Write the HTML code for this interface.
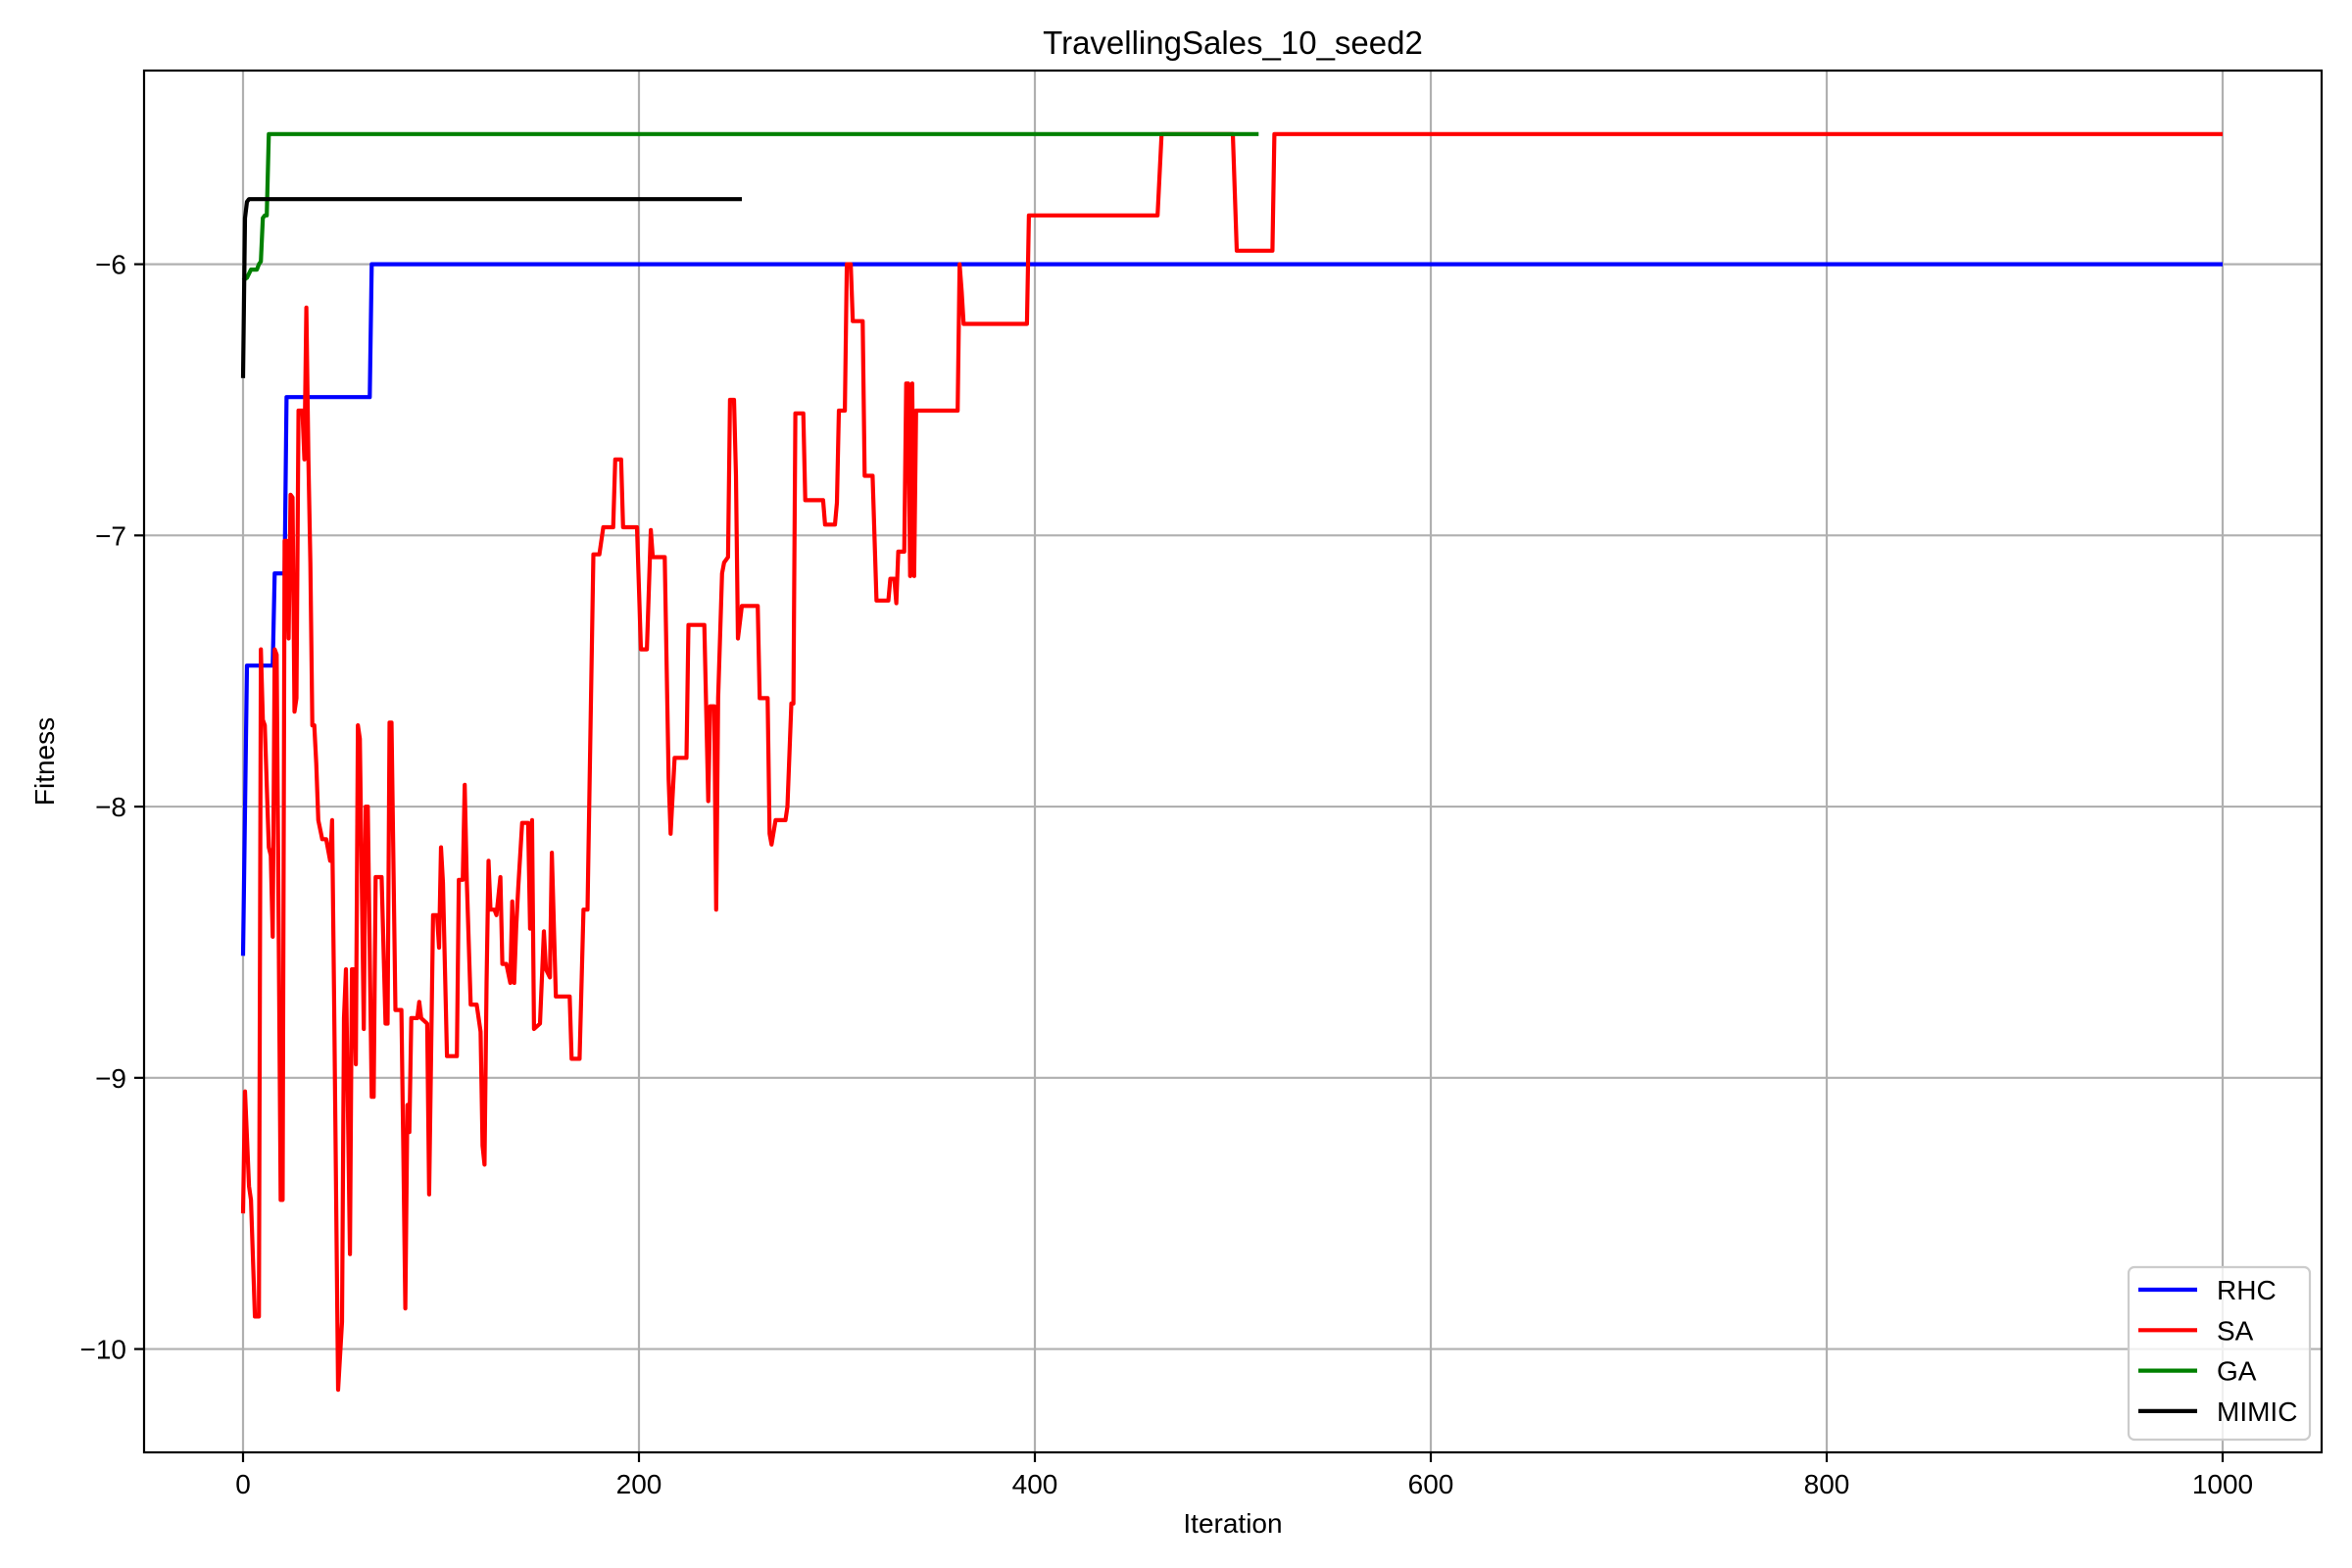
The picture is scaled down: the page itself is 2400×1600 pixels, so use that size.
<!DOCTYPE html>
<html><head><meta charset="utf-8"><style>
html,body{margin:0;padding:0;background:#fff;}
svg{display:block;font-family:"Liberation Sans","DejaVu Sans",sans-serif;}
</style></head><body>
<svg id="chart" width="2400" height="1600" viewBox="0 0 2400 1600" xmlns="http://www.w3.org/2000/svg">
<rect width="2400" height="1600" fill="#fff"/>
<g id="grid"></g>
<g id="series"></g>
<rect x="147" y="72" width="2222" height="1410" fill="none" stroke="#000" stroke-width="2.2"/>
<g id="ticks"></g>
<text x="1258" y="55" font-size="33" text-anchor="middle">TravellingSales_10_seed2</text>
<text x="1258" y="1564" font-size="28" text-anchor="middle">Iteration</text>
<text x="0" y="0" font-size="28" text-anchor="middle" transform="translate(55,777) rotate(-90)">Fitness</text>
<g id="legend"></g>
</svg>
<script>
const xTicks=[0,200,400,600,800,1000];
const yTicks=[-10,-9,-8,-7,-6];
const seriesNames=["RHC","SA","GA","MIMIC"];
const seriesColors=["#0000ff","#ff0000","#008000","#000000"];
const rhcIter=[0,2,15,16,21,22,64,65,1000];
const rhcVal=[-8.55,-7.48,-7.48,-7.14,-7.14,-6.49,-6.49,-6.0,-6.0];
const gaIter=[0,2,4,7,8,9,10,11,12,13,513];
const gaVal=[-6.06,-6.05,-6.02,-6.02,-6.0,-5.99,-5.83,-5.82,-5.82,-5.52,-5.52];
const mimicIter=[0,1,2,3,252];
const mimicVal=[-6.42,-5.83,-5.77,-5.76,-5.76];
const saIter=[0,1,3,4,6,8,9,10,11,13,14,15,16,17,19,20,21,22,23,24,25,26,27,28,30,31,32,33,34,35,36,37,38,40,42,44,45,46,48,50,51,52,54,55,56,57,58,59,61,62,63,65,66,67,70,72,73,74,75,77,80,81,82,83,84,85,88,89,90,93,94,96,98,99,100,101,103,105,108,109,111,112,113,115,118,120,121,122,123,124,125,127,128,130,131,133,135,136,137,138,139,141,144,145,146,147,150,152,153,155,156,158,165,166,170,172,174,177,180,182,187,188,191,192,199,201,204,206,207,213,215,216,218,224,225,233,235,236,238,239,240,242,243,245,246,248,249,250,252,260,261,265,266,267,269,274,275,277,278,279,283,284,293,294,299,300,301,304,305,307,308,313,314,318,320,326,327,329,330,331,334,335,336,337,338,339,340,361,362,363,364,396,397,462,464,500,502,520,521,1000];
const saVal=[-9.5,-9.05,-9.4,-9.45,-9.88,-9.88,-7.42,-7.68,-7.7,-8.15,-8.18,-8.48,-7.42,-7.44,-9.45,-9.45,-7.02,-7.02,-7.38,-6.85,-6.86,-7.65,-7.6,-6.54,-6.54,-6.72,-6.16,-6.72,-7.1,-7.7,-7.7,-7.84,-8.05,-8.12,-8.12,-8.2,-8.05,-8.7,-10.15,-9.9,-8.78,-8.6,-9.65,-8.6,-8.6,-8.95,-7.7,-7.75,-8.82,-8.0,-8.0,-9.07,-9.07,-8.26,-8.26,-8.8,-8.8,-7.69,-7.69,-8.75,-8.75,-9.28,-9.85,-9.1,-9.2,-8.78,-8.78,-8.72,-8.78,-8.8,-9.43,-8.4,-8.4,-8.52,-8.15,-8.28,-8.92,-8.92,-8.92,-8.27,-8.27,-7.92,-8.27,-8.73,-8.73,-8.83,-9.25,-9.32,-8.65,-8.2,-8.38,-8.38,-8.4,-8.26,-8.58,-8.58,-8.65,-8.35,-8.65,-8.44,-8.3,-8.06,-8.06,-8.45,-8.05,-8.82,-8.8,-8.46,-8.6,-8.63,-8.17,-8.7,-8.7,-8.93,-8.93,-8.38,-8.38,-7.07,-7.07,-6.97,-6.97,-6.72,-6.72,-6.97,-6.97,-7.42,-7.42,-6.98,-7.08,-7.08,-7.9,-8.1,-7.82,-7.82,-7.33,-7.33,-7.98,-7.63,-7.63,-8.38,-7.6,-7.14,-7.1,-7.08,-6.5,-6.5,-6.78,-7.38,-7.26,-7.26,-7.6,-7.6,-8.1,-8.14,-8.05,-8.05,-8.0,-7.62,-7.62,-6.55,-6.55,-6.87,-6.87,-6.96,-6.96,-6.88,-6.54,-6.54,-6.0,-6.0,-6.21,-6.21,-6.78,-6.78,-7.24,-7.24,-7.16,-7.16,-7.25,-7.06,-7.06,-6.44,-6.44,-7.15,-6.44,-7.15,-6.54,-6.54,-6.0,-6.1,-6.22,-6.22,-5.82,-5.82,-5.52,-5.52,-5.95,-5.95,-5.52,-5.52];

const NS="http://www.w3.org/2000/svg";
const X0=147,X1=2369,Y0=72,Y1=1482,XMIN=-50,XMAX=1050,YMIN=-10.381,YMAX=-5.286;
function xs(v){return X0+(v-XMIN)/(XMAX-XMIN)*(X1-X0);}
function ys(v){return Y1-(v-YMIN)/(YMAX-YMIN)*(Y1-Y0);}
function mk(tag,attrs,parent){const e=document.createElementNS(NS,tag);for(const k in attrs)e.setAttribute(k,attrs[k]);parent.appendChild(e);return e;}
const grid=document.getElementById('grid'),ticks=document.getElementById('ticks'),ser=document.getElementById('series'),leg=document.getElementById('legend');
xTicks.forEach(t=>{
  const x=xs(t);
  const g=mk('line',{x1:x,x2:x,y1:Y0,y2:Y1,stroke:'#b0b0b0','stroke-width':2.2},grid);
  
  
  const tk=mk('line',{x1:x,x2:x,y1:Y1,y2:Y1+10,stroke:'#000','stroke-width':2.2},ticks);
  
  
  const tl=mk('text',{x:x,y:Y1+42,'font-size':28,'text-anchor':'middle'},ticks);
  tl.textContent=String(t);
  
  
});
yTicks.forEach(t=>{
  const y=ys(t);
  const g=mk('line',{x1:X0,x2:X1,y1:y,y2:y,stroke:'#b0b0b0','stroke-width':2.2},grid);
  
  
  const tk=mk('line',{x1:X0-10,x2:X0,y1:y,y2:y,stroke:'#000','stroke-width':2.2},ticks);
  
  
  const tl=mk('text',{x:X0-18,y:y+10,'font-size':28,'text-anchor':'end'},ticks);
  tl.textContent='\u2212'+Math.abs(t);
  
  
});
const data=[[rhcIter,rhcVal],[saIter,saVal],[gaIter,gaVal],[mimicIter,mimicVal]];
const order=[0,1,2,3];
order.forEach(i=>{
  const [it,va]=data[i];
  const pts=it.map((v,j)=>xs(v).toFixed(1)+','+ys(va[j]).toFixed(1)).join(' ');
  const p=mk('polyline',{points:pts,fill:'none',stroke:seriesColors[i],'stroke-width':4.2,'stroke-linejoin':'round'},ser);
  
  
});
const box=mk('rect',{x:2172,y:1293,width:185,height:176,rx:6,fill:'#fff','fill-opacity':0.8,stroke:'#cccccc','stroke-width':2.2},leg);


seriesNames.forEach((n,i)=>{
  const y=1316+i*41.3;
  const l=mk('line',{x1:2182,x2:2242,y1:y,y2:y,stroke:seriesColors[i],'stroke-width':4.2},leg);
  
  
  const t=mk('text',{x:2262,y:y+10,'font-size':28},leg);
  t.textContent=n;
  
  
});
</script>
</body></html>
